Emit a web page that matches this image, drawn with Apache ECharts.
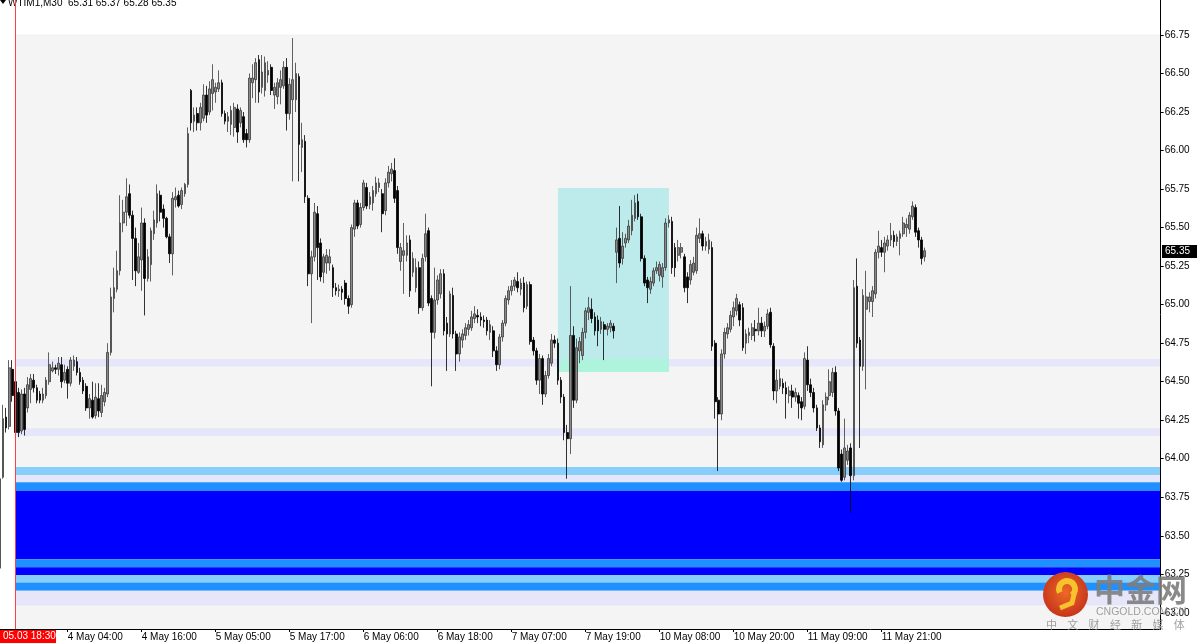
<!DOCTYPE html>
<html><head><meta charset="utf-8">
<script src="https://cdn.jsdelivr.net/npm/echarts@6/dist/echarts.min.js"></script>
<style>html,body{margin:0;padding:0;background:#fff}#c{width:1200px;height:643px}</style>
</head><body><div id="c"></div>
<script>
// ---- data: M30 bars [open, close, low, high] per trading day ----
const may3 = [
[63.29,63.87,63.28,63.92],[63.88,64.26,63.87,64.35],[64.27,64.20,64.17,64.33],[64.21,64.59,64.19,64.64],
[64.58,64.41,64.37,64.64],[64.50,64.17,64.15,64.52],[64.43,64.17,64.14,64.46],[64.18,64.42,64.16,64.45],
[64.42,64.19,64.15,64.46],[64.33,64.48,64.30,64.53],[64.45,64.52,64.36,64.55],[64.51,64.46,64.43,64.55],
[64.46,64.38,64.36,64.48],[64.42,64.38,64.36,64.44],[64.38,64.42,64.36,64.46],[64.41,64.51,64.39,64.53]];
const may4 = [
[64.50,64.61,64.48,64.69],[64.57,64.59,64.56,64.63],[64.59,64.58,64.55,64.61],[64.58,64.62,64.54,64.66],
[64.61,64.50,64.46,64.66],[64.51,64.56,64.49,64.61],[64.58,64.49,64.39,64.60],[64.49,64.64,64.47,64.66],
[64.60,64.64,64.57,64.67],[64.63,64.56,64.54,64.66],[64.56,64.50,64.48,64.59],[64.51,64.44,64.42,64.53],
[64.47,64.33,64.31,64.49],[64.33,64.39,64.26,64.42],[64.38,64.27,64.26,64.50],[64.28,64.40,64.26,64.49],
[64.39,64.31,64.27,64.49],[64.30,64.41,64.27,64.48],[64.37,64.43,64.34,64.46],[64.42,64.69,64.40,64.75],
[64.69,65.05,64.67,65.11],[65.04,65.11,64.95,65.24],[65.10,65.22,65.08,65.35],[65.22,65.53,65.19,65.71],
[65.53,65.60,65.47,65.68],[65.60,65.70,65.51,65.82],[65.72,65.58,65.56,65.78],[65.58,65.43,65.16,65.61],
[65.43,65.22,65.12,65.50],[65.21,65.31,65.20,65.40],[65.29,65.53,65.09,65.63],[65.53,65.17,64.93,65.56],
[65.17,65.31,65.15,65.36],[65.26,65.48,65.15,65.50],[65.46,65.55,65.42,65.61],[65.53,65.72,65.50,65.78],
[65.71,65.60,65.54,65.74],[65.62,65.56,65.50,65.65],[65.56,65.44,65.43,65.57],[65.44,65.33,65.27,65.46],
[65.33,65.69,65.19,65.73],[65.68,65.70,65.63,65.76],[65.71,65.64,65.63,65.74],[65.65,65.74,65.62,65.76],
[65.72,65.78,65.70,65.79],[65.78,66.11,65.76,66.15]];
const may5 = [
[66.39,66.18,66.13,66.40],[66.19,66.23,66.12,66.28],[66.24,66.18,66.13,66.28],[66.18,66.28,66.13,66.31],
[66.21,66.36,66.19,66.43],[66.36,66.23,66.18,66.42],[66.25,66.40,66.23,66.45],[66.37,66.46,66.26,66.56],
[66.38,66.41,66.31,66.44],[66.40,66.44,66.38,66.52],[66.44,66.24,66.22,66.46],[66.24,66.19,66.17,66.26],
[66.19,66.22,66.12,66.25],[66.17,66.26,66.10,66.29],[66.15,66.28,66.09,66.31],[66.27,66.12,66.05,66.30],
[66.18,66.26,66.15,66.28],[66.22,66.07,66.05,66.25],[66.11,66.07,66.02,66.14],[66.07,66.47,66.05,66.50],
[66.44,66.47,66.34,66.56],[66.46,66.57,66.31,66.60],[66.59,66.38,66.31,66.62],[66.41,66.51,66.37,66.62],
[66.39,66.57,66.35,66.61],[66.49,66.52,66.44,66.58],[66.54,66.39,66.36,66.56],[66.36,66.41,66.27,66.44],
[66.35,66.44,66.30,66.47],[66.41,66.46,66.30,66.52],[66.42,66.54,66.40,66.58],[66.54,66.24,66.13,66.60],
[66.24,66.43,66.20,66.47],[66.33,66.46,65.80,66.73],[66.33,66.50,66.25,66.57],[66.48,66.04,65.80,66.50],
[66.02,66.07,65.86,66.18],[66.06,65.70,65.66,66.10],[65.69,65.20,65.12,65.71],[65.20,65.31,64.88,65.35],
[65.31,65.60,65.28,65.66],[65.59,65.37,65.16,65.64],[65.40,65.18,65.15,65.43],[65.21,65.31,65.14,65.33],
[65.27,65.32,65.20,65.36],[65.27,65.31,65.22,65.36]];
const may6 = [
[65.24,65.11,65.05,65.26],[65.11,65.09,65.06,65.14],[65.09,65.10,65.05,65.13],[65.10,65.08,65.03,65.12],
[65.14,65.04,65.00,65.16],[65.04,64.99,64.94,65.06],[65.00,65.50,64.98,65.52],[65.49,65.66,65.44,65.68],
[65.66,65.51,65.49,65.68],[65.52,65.63,65.50,65.66],[65.63,65.79,65.61,65.81],[65.76,65.64,65.62,65.79],
[65.65,65.70,65.62,65.73],[65.66,65.74,65.61,65.77],[65.72,65.79,65.70,65.83],[65.76,65.79,65.73,65.82],
[65.72,65.59,65.47,65.75],[65.61,65.79,65.58,65.82],[65.79,65.86,65.76,65.90],[65.85,65.88,65.80,65.92],
[65.87,65.69,65.66,65.95],[65.74,65.37,65.33,65.77],[65.28,65.37,65.22,65.40],[65.32,65.35,65.07,65.53],
[65.32,65.40,65.28,65.45],[65.42,65.09,65.05,65.45],[65.21,65.30,65.18,65.34],[65.11,65.24,65.08,65.30],
[65.24,64.98,64.94,65.28],[64.98,65.30,64.96,65.33],[65.31,65.46,65.28,65.59],[65.48,65.01,64.99,65.50],
[65.04,64.82,64.47,65.06],[64.82,65.03,64.78,65.24],[65.03,65.16,65.00,65.19],[65.07,65.20,65.04,65.23],
[65.20,64.83,64.80,65.23],[64.88,64.81,64.57,64.92],[64.81,65.07,64.79,65.09],[65.06,64.81,64.78,65.11],
[64.81,64.68,64.57,64.83],[64.68,64.79,64.63,64.82],[64.77,64.81,64.72,64.84],[64.80,64.85,64.77,64.88],
[64.84,64.87,64.80,64.90],[64.85,64.92,64.83,64.96]];
const may7 = [
[64.91,64.94,64.88,64.99],[64.93,64.92,64.88,64.97],[64.92,64.90,64.86,64.95],[64.90,64.89,64.85,64.93],
[64.90,64.83,64.80,64.92],[64.82,64.87,64.77,64.90],[64.83,64.70,64.66,64.86],[64.70,64.61,64.57,64.73],
[64.61,64.79,64.58,64.81],[64.79,64.88,64.76,64.90],[64.88,65.04,64.86,65.06],[65.03,65.09,65.00,65.12],
[65.09,65.12,65.06,65.16],[65.12,65.16,65.09,65.18],[65.15,65.11,65.08,65.21],[65.10,65.14,65.06,65.17],
[65.14,64.98,64.95,65.18],[64.99,65.13,64.97,65.15],[65.13,64.76,64.74,65.15],[64.77,64.70,64.67,64.79],
[64.70,64.51,64.48,64.72],[64.51,64.65,64.42,64.68],[64.65,64.42,64.35,64.67],[64.42,64.54,64.40,64.57],
[64.54,64.65,64.52,64.68],[64.62,64.77,64.60,64.81],[64.77,64.75,64.72,64.80],[64.75,64.51,64.48,64.78],
[64.51,64.40,64.36,64.53],[64.40,64.17,64.12,64.42],[64.17,64.13,63.87,64.22],[64.13,64.80,64.03,65.12],
[64.80,64.38,64.33,64.86],[64.38,64.72,64.36,64.78],[64.70,64.76,64.62,64.79],[64.67,64.82,64.64,64.85],
[64.82,64.96,64.78,64.98],[64.95,64.98,64.90,65.05],[64.97,64.91,64.88,65.04],[64.92,64.83,64.80,64.95],
[64.90,64.83,64.73,64.93],[64.84,64.89,64.81,64.92],[64.87,64.84,64.64,64.89],[64.84,64.86,64.80,64.88],
[64.85,64.88,64.82,64.90],[64.86,64.83,64.78,64.88]];
const may10 = [
[65.34,65.42,65.14,65.50],[65.43,65.27,65.24,65.64],[65.30,65.38,65.26,65.47],[65.40,65.43,65.37,65.46],
[65.42,65.51,65.40,65.55],[65.48,65.58,65.45,65.68],[65.56,65.66,65.54,65.71],[65.67,65.57,65.55,65.72],
[65.57,65.30,65.28,65.59],[65.30,65.14,65.12,65.32],[65.16,65.11,65.01,65.18],[65.10,65.15,65.07,65.18],
[65.14,65.22,65.12,65.24],[65.22,65.24,65.20,65.28],[65.19,65.26,65.15,65.28],[65.18,65.24,65.11,65.27],
[65.24,65.53,65.22,65.56],[65.53,65.55,65.50,65.58],[65.54,65.24,65.20,65.57],[65.37,65.24,65.18,65.40],
[65.32,65.37,65.28,65.42],[65.34,65.37,65.30,65.40],[65.31,65.11,65.08,65.33],[65.18,65.11,65.01,65.21],
[65.16,65.26,65.13,65.29],[65.21,65.27,65.19,65.31],[65.22,65.45,65.20,65.50],[65.43,65.46,65.40,65.56],
[65.46,65.38,65.35,65.48],[65.38,65.41,65.35,65.44],[65.36,65.42,65.33,65.46],[65.37,64.73,64.70,65.41],
[64.75,64.37,64.26,64.77],[64.38,64.29,63.92,64.40],[64.29,64.68,64.25,64.71],[64.68,64.82,64.65,64.85],
[64.81,64.85,64.78,64.88],[64.84,64.93,64.82,64.96],[64.92,64.98,64.86,65.02],[64.96,65.04,64.93,65.07],
[65.00,64.90,64.86,65.02],[64.98,64.72,64.70,65.01],[64.75,64.81,64.68,64.84],[64.80,64.82,64.75,64.85],
[64.80,64.85,64.77,64.88],[64.84,64.83,64.76,64.90]];
const may11 = [
[64.83,64.88,64.80,64.98],[64.88,64.83,64.79,64.92],[64.83,64.86,64.79,64.89],[64.86,64.94,64.84,64.97],
[64.95,64.74,64.72,64.98],[64.73,64.44,64.38,64.75],[64.44,64.51,64.36,64.58],[64.47,64.52,64.45,64.58],
[64.49,64.46,64.42,64.52],[64.46,64.42,64.26,64.50],[64.41,64.44,64.36,64.47],[64.44,64.40,64.33,64.48],
[64.40,64.43,64.37,64.46],[64.41,64.36,64.26,64.43],[64.37,64.33,64.25,64.40],[64.34,64.65,64.32,64.69],
[64.64,64.48,64.44,64.73],[64.48,64.43,64.40,64.52],[64.43,64.33,64.30,64.46],[64.33,64.20,64.18,64.35],
[64.20,64.11,64.07,64.22],[64.09,64.35,64.07,64.38],[64.35,64.40,64.31,64.43],[64.41,64.50,64.38,64.58],
[64.43,64.56,64.40,64.59],[64.56,64.31,64.28,64.60],[64.31,63.94,63.92,64.33],[64.03,63.86,63.85,64.06],
[63.88,64.07,63.86,64.26],[63.99,64.05,63.96,64.09],[64.07,63.89,63.65,64.10],[63.89,65.11,63.86,65.16],
[65.12,64.75,64.72,65.30],[64.77,64.60,64.07,64.79],[64.60,65.06,64.57,65.10],[64.97,65.05,64.45,65.22],
[65.02,65.05,64.95,65.08],[65.02,65.09,64.92,65.12],[65.07,65.34,65.04,65.36],[65.34,65.38,65.30,65.48],
[65.37,65.34,65.31,65.42],[65.34,65.40,65.21,65.44],[65.38,65.42,65.35,65.45],[65.42,65.45,65.38,65.53],
[65.45,65.41,65.37,65.48],[65.41,65.44,65.38,65.46]];
const may12 = [
[65.43,65.46,65.32,65.48],[65.46,65.53,65.44,65.57],[65.50,65.52,65.44,65.56],[65.49,65.58,65.46,65.60],
[65.57,65.64,65.55,65.67],[65.63,65.47,65.44,65.65],[65.48,65.42,65.37,65.50],[65.42,65.30,65.26,65.44],
[65.31,65.35,65.28,65.37]];

const sessionDays = ['3 May','4 May','5 May','6 May','7 May','10 May','11 May','12 May','13 May'];
const tickLabels = ['4 May 04:00','4 May 16:00','5 May 05:00','5 May 17:00','6 May 06:00','6 May 18:00',
  '7 May 07:00','7 May 19:00','10 May 08:00','10 May 20:00','11 May 09:00','11 May 21:00'];
const priceTicks = [63.00,63.25,63.50,63.75,64.00,64.25,64.50,64.75,65.00,65.25,65.50,65.75,66.00,66.25,66.50,66.75];
const lastPrice = 65.35;
const headerText = 'WTIM1,M30  65.31 65.37 65.28 65.35';
const vLineTime = '3 May 18:30';
const vLineLabel = '05.03 18:30';
// horizontal zones (price top, price bottom)
const zoneTop    = [64.647, 64.197, 63.947, 63.895, 63.847, 63.793, 63.348, 63.296, 63.246, 63.196, 63.144];
const zoneBottom = [64.599, 64.148, 63.895, 63.847, 63.793, 63.348, 63.296, 63.246, 63.196, 63.144, 63.047];
const boxTime = ['7 May 14:30', '10 May 09:30'];
const boxPrice = [65.757, 64.563];
const boxStripTime = ['7 May 15:00', '10 May 09:30'];
const boxStripPrice = [64.647, 64.563];
const panelTop = 66.753;

// ---- build ----
const pad = n => (n < 10 ? '0' : '') + n;
const categories = [];
sessionDays.forEach((d, k) => {
  for (let m = (k === 0 ? 16 * 60 : 60); m < 24 * 60; m += 30) categories.push(d + ' ' + pad(Math.floor(m / 60)) + ':' + pad(m % 60));
});
categories.length = 377;
const candles = [].concat(may3, may4, may5, may6, may7, may10, may11, may12);
const tickSet = new Set(tickLabels);
const yMin = 62.895, yMax = 66.977;
const zoneColors = ['#e6e6fa','#e6e6fa','#87cefa','#e6e6fa','#1e90ff','#0000ff','#1e90ff','#0000ff','#87cefa','#1e90ff','#e6e6fa'];
const FONT = '"Liberation Sans", Arial, sans-serif';

const areas = [[{xAxis: vLineTime, yAxis: panelTop, itemStyle: {color: '#f4f4f4', borderWidth: 0}}, {yAxis: yMin}]];
zoneTop.forEach((t, i) => areas.push([{xAxis: vLineTime, yAxis: t, itemStyle: {color: zoneColors[i], borderWidth: 0}}, {yAxis: zoneBottom[i]}]));
areas.push([{xAxis: boxTime[0], yAxis: boxPrice[0], itemStyle: {color: '#bdeaea', borderWidth: 0}}, {xAxis: boxTime[1], yAxis: boxPrice[1]}]);
areas.push([{xAxis: boxStripTime[0], yAxis: boxStripPrice[0], itemStyle: {color: '#aef3dc', borderWidth: 0}}, {xAxis: boxStripTime[1], yAxis: boxStripPrice[1]}]);

const lastIdx = candles.length - 1;

const chart = echarts.init(document.getElementById('c'), null, {renderer: 'canvas'});
chart.setOption({
  animation: false,
  backgroundColor: '#ffffff',
  grid: {left: -1.64, top: 0, width: 1162.3, height: 629, containLabel: false, outerBoundsMode: 'none'},
  xAxis: {
    type: 'category', data: categories, boundaryGap: true, z: 10,
    axisLine: {show: true, lineStyle: {color: '#000', width: 1}},
    axisTick: {show: true, alignWithLabel: true, length: 3, interval: (i, v) => tickSet.has(v), lineStyle: {color: '#000'}},
    axisLabel: {interval: (i, v) => tickSet.has(v), align: 'left', margin: 3, fontSize: 10, color: '#000', fontFamily: FONT},
    splitLine: {show: false}, splitArea: {show: false}
  },
  yAxis: {
    type: 'value', position: 'right', min: yMin, max: yMax, z: 10,
    axisLine: {show: true, lineStyle: {color: '#000', width: 1}},
    axisTick: {show: true, length: 3, customValues: priceTicks, lineStyle: {color: '#000'}},
    axisLabel: {customValues: priceTicks, formatter: v => v.toFixed(2), margin: 4, fontSize: 10, color: '#000', fontFamily: FONT},
    splitLine: {show: false}, splitArea: {show: false}
  },
  series: [
    {type: 'line', data: [], z: 1, silent: true, markArea: {silent: true, label: {show: false}, data: areas}},
    {
      type: 'candlestick', data: candles, z: 3, barWidth: 2.2,
      itemStyle: {color: '#8a8a8a', color0: '#000000', borderColor: '#3a3a3a', borderColor0: '#000000', borderWidth: 0.8}
    },
    {
      type: 'custom', z: 7, silent: true, clip: false,
      data: [[lastIdx, lastPrice]], encode: {x: 0, y: 1},
      renderItem: (params, api) => {
        const p = api.coord([api.value(0), api.value(1)]);
        const xr = params.coordSys.x + params.coordSys.width;
        return {type: 'group', children: [
          {type: 'rect', shape: {x: Math.round(xr) + 1, y: Math.round(p[1]) - 6, width: 35, height: 13}, style: {fill: '#000'}},
          {type: 'text', x: Math.round(xr) + 4, y: Math.round(p[1]) + 0.5, style: {text: api.value(1).toFixed(2), fill: '#fff', font: '10px ' + FONT, verticalAlign: 'middle'}}
        ]};
      }
    }
  ]
});

// vertical time line, positioned through the category scale
const vx = Math.floor(chart.convertToPixel({xAxisIndex: 0}, vLineTime));
chart.setOption({
  graphic: [
    {type: 'rect', shape: {x: vx, y: 0, width: 1, height: 629}, style: {fill: '#ff4040'}, z: 50, silent: true},
    {type: 'polygon', shape: {points: [[0, 0], [6, 0], [3, 4]]}, style: {fill: '#000'}},
    {type: 'text', x: 8, y: 3, style: {text: headerText, font: '10px ' + FONT, fill: '#000', verticalAlign: 'middle'}},
    {type: 'rect', shape: {x: 0, y: 630, width: 56, height: 13}, style: {fill: '#ff0000'}, z: 20},
    {type: 'text', x: 3, y: 636.5, style: {text: vLineLabel, font: '10px ' + FONT, fill: '#fff', verticalAlign: 'middle'}, z: 21},
    {type: 'circle', shape: {cx: 1065.5, cy: 594.5, r: 22.5}, style: {fill: new echarts.graphic.RadialGradient(0.5, 0.45, 0.6, [{offset: 0, color: '#ec6a24'}, {offset: 1, color: '#c4301c'}])}, z: 30},
    {type: 'arc', shape: {cx: 1067, cy: 589, r: 8, startAngle: -3.6, endAngle: 0.9, clockwise: true}, style: {stroke: '#f7c22e', lineWidth: 6, fill: null}, z: 31},
    {type: 'polyline', shape: {points: [[1075, 590], [1072, 603], [1060, 608]]}, style: {stroke: '#f7c22e', lineWidth: 5, fill: null}, z: 31},
    {type: 'text', x: 1094, y: 589, style: {text: '中金网', font: 'bold 31px "Noto Sans CJK SC"', fill: 'rgba(125,125,125,0.9)', verticalAlign: 'middle'}, z: 30},
    {type: 'text', x: 1096, y: 612, style: {text: 'CNGOLD.COM.CN', font: '10.5px ' + FONT, fill: 'rgba(150,150,150,0.9)', verticalAlign: 'middle'}, z: 30},
    ...['中','文','财','经','新','媒','体'].map((ch, k) => ({type: 'text', x: 1046 + k * 21.3, y: 625, style: {text: ch, font: '11px "Noto Sans CJK SC"', fill: 'rgba(150,150,150,0.9)', verticalAlign: 'middle'}, z: 30}))
  ]
});
</script>
</body></html>
